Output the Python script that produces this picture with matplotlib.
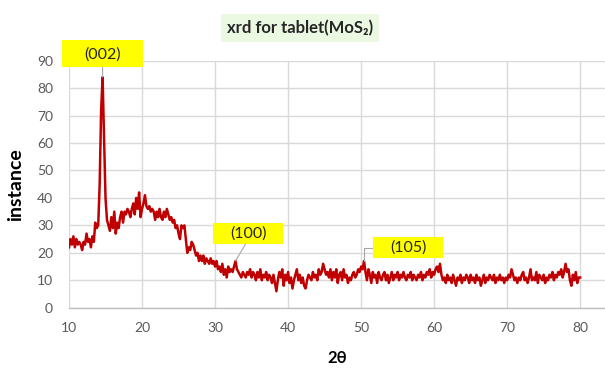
import numpy as np
import matplotlib.pyplot as plt
from matplotlib.patches import Rectangle
from matplotlib.transforms import IdentityTransform, ScaledTranslation

plt.rcParams['font.family'] = ['Lato', 'DejaVu Sans']

# diffraction scan, 2theta from 10 to 80 deg in 0.2 deg steps
two_theta = np.round(np.arange(10.0, 80.01, 0.2), 1)
intensity = [
    22, 25, 23, 26, 22, 25, 23, 24, 23, 21,
    24, 23, 27, 24, 25, 22, 26, 24, 31, 29,
    30, 45, 72, 84, 62, 40, 32, 30, 28, 33,   # 14.0
    29, 35, 27, 31, 29, 33, 35, 31, 35, 34,   # 16.0
    36, 35, 33, 36, 38, 34, 40, 36, 42, 33,   # 18.0
    36, 38, 41, 37, 36, 37, 35, 36, 35, 32,   # 20.0
    35, 33, 36, 33, 32, 35, 33, 36, 34, 32,   # 22.0
    33, 31, 32, 29, 30, 27, 25, 30, 29, 30,   # 24.0
    25, 20, 22, 21, 24, 23, 21, 19, 20, 17,   # 26.0
    19, 17, 19, 16, 18, 17, 16, 18, 16, 17,   # 28.0
    15, 17, 14, 15, 13, 16, 12, 14, 11, 15,   # 30.0
    13, 14, 13, 15, 17, 14, 13, 12, 11, 13,   # 32.0
    12, 11, 13, 12, 14, 11, 13, 12, 10, 13,   # 34.0
    11, 14, 10, 12, 11, 13, 10, 12, 11, 9,    # 36.0
    12, 9, 6, 10, 13, 11, 14, 8, 12, 10,      # 38.0
    13, 9, 11, 7, 10, 12, 14, 10, 12, 9,      # 40.0
    11, 8, 7, 10, 12, 11, 10, 13, 11, 12,     # 42.0
    10, 14, 12, 13, 16, 14, 12, 13, 11, 14,   # 44.0
    10, 13, 11, 14, 9, 12, 13, 10, 14, 11,    # 46.0
    12, 9, 11, 10, 12, 13, 11, 12, 14, 13,    # 48.0
    15, 14, 17, 13, 10, 14, 12, 9, 13, 11,    # 50.0
    12, 9, 13, 11, 10, 12, 13, 10, 12, 9,     # 52.0
    11, 13, 10, 12, 11, 13, 10, 12, 11, 13,   # 54.0
    11, 10, 12, 11, 13, 10, 12, 11, 10, 12,   # 56.0
    11, 13, 10, 12, 11, 13, 12, 14, 11, 13,   # 58.0
    12, 14, 15, 13, 16, 12, 10, 11, 9, 12,    # 60.0
    10, 11, 9, 12, 10, 8, 11, 10, 12, 9,      # 62.0
    11, 10, 12, 11, 9, 12, 10, 11, 9, 12,     # 64.0
    10, 11, 8, 10, 12, 9, 11, 10, 12, 11,     # 66.0
    10, 12, 9, 11, 10, 12, 10, 11, 9, 11,     # 68.0
    10, 12, 11, 14, 12, 10, 11, 9, 11, 10,    # 70.0
    12, 13, 10, 11, 9, 11, 14, 10, 11, 10,    # 72.0
    13, 9, 12, 11, 10, 12, 9, 11, 10, 12,     # 74.0
    11, 13, 10, 12, 11, 13, 12, 14, 11, 13,   # 76.0
    16, 13, 14, 10, 8, 12, 10, 13, 9, 11,     # 78.0
    11,
]

# peak labels: (hkl, 2theta, intensity)
peak_names = ['(002)', '(100)', '(105)']
peak_x = [14.6, 32.8, 50.4]
peak_y = [84, 17, 17]

fig = plt.figure(figsize=(6.05, 3.72), dpi=100)
ax = fig.add_axes([69 / 605, 1 - 307.7 / 372, (605 - 69) / 605, (307.7 - 60.7) / 372])

ax.plot(two_theta, intensity, color='#c00000', lw=1.8, zorder=3)

ax.set_xlim(10, 83.4)
ax.set_ylim(0, 90)
ax.set_xticks(range(10, 81, 10))
ax.set_yticks(range(0, 91, 10))
ax.grid(True, color='#d9d9d9', lw=1.0)
ax.set_axisbelow(True)
for side in ['left', 'right', 'top']:
    ax.spines[side].set_visible(False)
ax.spines['bottom'].set_color('#bfbfbf')
ax.spines['bottom'].set_linewidth(1.0)
ax.tick_params(length=0, labelsize=10, labelcolor='#595959')
ax.tick_params(axis='y', pad=11.5)
ax.tick_params(axis='x', pad=10)

ax.set_xlabel('2θ', fontsize=12, fontweight='bold', labelpad=12)
ax.set_ylabel('instance', fontsize=14, fontweight='bold', labelpad=9)

# yellow label boxes, offsets in pixels from the marked point
box_rect = [(-40.5, 10, 81, 27), (-22, 17, 70, 21.3), (8.7, 3.4, 70.6, 20.6)]
text_off = [(0, 23), (13, 27.5), (44, 13.5)]
leader_off = [(0, 10), (10, 17), (8.7, 13.5)]
leader_style = ['arc3', 'arc3', 'angle,angleA=0,angleB=90,rad=0']

for i, name in enumerate(peak_names):
    px, py = peak_x[i], peak_y[i]
    trans = IdentityTransform() + ScaledTranslation(px, py, ax.transData)
    bx, by, bw, bh = box_rect[i]
    ax.add_patch(Rectangle((bx, by), bw, bh, transform=trans, facecolor='#ffff00',
                           edgecolor='none', clip_on=False, zorder=5))
    ax.annotate('', xy=(px, py), xytext=leader_off[i], textcoords='offset pixels',
                arrowprops=dict(arrowstyle='-', color='#a6a6a6', lw=0.8,
                                shrinkA=0, shrinkB=0, connectionstyle=leader_style[i]),
                zorder=4, annotation_clip=False)
    ax.annotate(name, xy=(px, py), xytext=text_off[i], textcoords='offset pixels',
                ha='center', va='center', fontsize=11.5, color='#262626', zorder=6,
                annotation_clip=False)

fig.text(300 / 605, 1 - 28 / 372, 'xrd for tablet(MoS₂)', ha='center', va='center',
         fontsize=12, fontweight='bold', color='#262626',
         bbox=dict(boxstyle='square,pad=0.35', facecolor='#ebf8e2', edgecolor='none'))

fig.savefig('out.png', dpi=100)
